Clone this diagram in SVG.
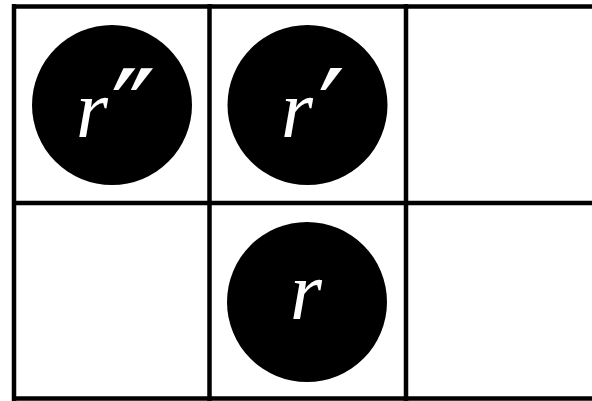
<svg xmlns="http://www.w3.org/2000/svg" width="592" height="401" viewBox="0 0 592 401">
<style>
.grid{stroke:#000;stroke-width:4.5;fill:none}
.node circle{fill:#000}
.node text{fill:#fff;font-family:'Liberation Serif',serif;font-style:italic;font-weight:normal;font-size:82px}
.pr{font-family:'DejaVu Sans',sans-serif;font-style:normal;font-size:120px}
</style>
<rect width="592" height="401" fill="#fff"/>
<g id="grid" class="grid">
<line x1="14" y1="6.5" x2="592" y2="6.5"/>
<line x1="14" y1="203" x2="592" y2="203"/>
<line x1="14" y1="398.5" x2="592" y2="398.5"/>
<line x1="14" y1="4" x2="14" y2="401"/>
<line x1="209.5" y1="4" x2="209.5" y2="401"/>
<line x1="406" y1="4" x2="406" y2="401"/>
</g>
<g id="connectors"></g>
<g id="node-r2" class="node">
<circle cx="112" cy="105" r="80"/>
<text x="76" y="137">r<tspan class="pr" dx="3" dy="18">″</tspan></text>
</g>
<g id="node-r1" class="node">
<circle cx="307.5" cy="105" r="80"/>
<text x="281" y="137">r<tspan class="pr" dx="5" dy="18">′</tspan></text>
</g>
<g id="node-r" class="node">
<circle cx="307" cy="302" r="80"/>
<text x="290" y="319">r</text>
</g>
</svg>
